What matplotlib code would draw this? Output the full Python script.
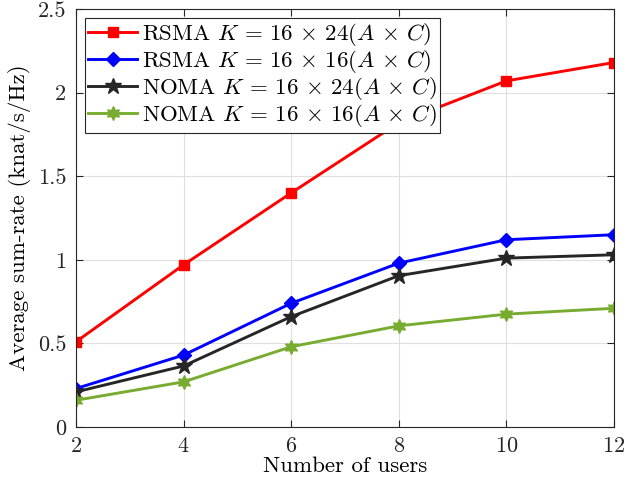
import numpy as np
from matplotlib import pyplot as plt

plt.rcParams['font.family'] = ['cmr10']
plt.rcParams['mathtext.fontset'] = 'cm'
plt.rcParams['axes.formatter.use_mathtext'] = True

users = [2, 4, 6, 8, 10, 12]
rsma_24 = [0.51, 0.97, 1.40, 1.82, 2.07, 2.18]
rsma_16 = [0.23, 0.43, 0.74, 0.98, 1.12, 1.15]
noma_24 = [0.21, 0.365, 0.66, 0.905, 1.01, 1.03]
noma_16 = [0.16, 0.27, 0.48, 0.605, 0.675, 0.71]

labels = [r'RSMA $K\,=\,16\,\times\,24(A\,\times\,C)$',
          r'RSMA $K\,=\,16\,\times\,16(A\,\times\,C)$',
          r'NOMA $K\,=\,16\,\times\,24(A\,\times\,C)$',
          r'NOMA $K\,=\,16\,\times\,16(A\,\times\,C)$']

fig = plt.figure(figsize=(6.26, 4.91), dpi=100)
ax = fig.add_axes([76/626, 1 - 427/491, (614-76)/626, (427-9)/491])

ax.plot(users, rsma_24, color='#ff0000', lw=2.1, marker='s', ms=7, label=labels[0])
ax.plot(users, rsma_16, color='#0000ff', lw=2.1, marker='D', ms=7, label=labels[1])
ax.plot(users, noma_24, color='#262626', lw=2.1, marker='*', ms=12, label=labels[2])
ax.plot(users, noma_16, color='#77ac30', lw=2.1, marker=(6, 1, 0), ms=10, label=labels[3])

ax.set_xlim(2, 12)
ax.set_ylim(0, 2.5)
ax.set_xticks([2, 4, 6, 8, 10, 12])
ax.set_yticks([0, 0.5, 1, 1.5, 2, 2.5])
ax.set_yticklabels(['0', '0.5', '1', '1.5', '2', '2.5'])
ax.grid(True, color='#dfdfdf', lw=0.8)
ax.set_axisbelow(True)
ax.tick_params(direction='in', labelsize=16, colors='#262626', top=True, right=True,
               length=5, pad=7)
for s in ax.spines.values():
    s.set_color('#262626')
    s.set_linewidth(0.8)

ax.set_xlabel('Number of users', fontsize=16.5, labelpad=0)
ax.set_ylabel('Average sum-rate (knat/s/Hz)', fontsize=16.5, labelpad=5)

leg = ax.legend(loc='upper left', fontsize=16.5, fancybox=False, edgecolor='#262626',
                framealpha=1, borderpad=0.15, labelspacing=0.0, handlelength=2.15,
                handletextpad=0.2, borderaxespad=0.38)
leg.get_frame().set_linewidth(0.8)

plt.savefig('out.png', dpi=100)
